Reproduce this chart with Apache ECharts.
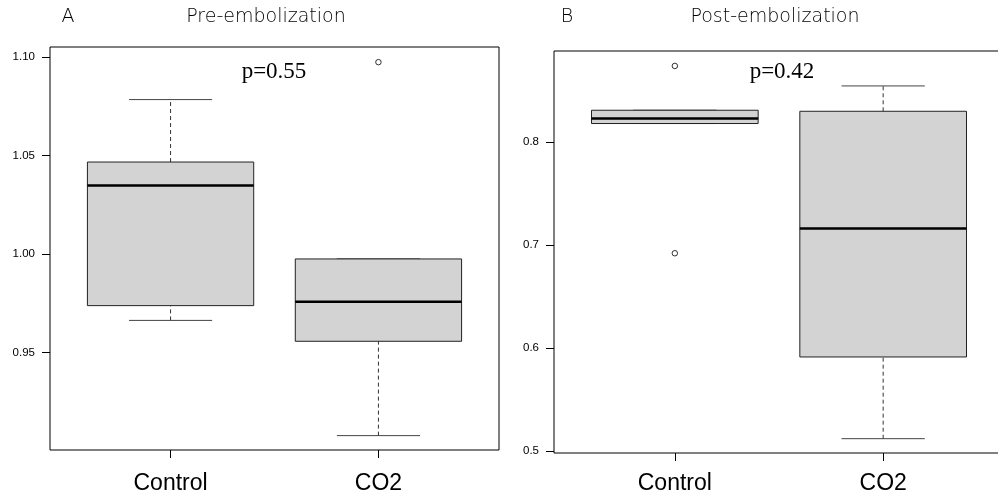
<!DOCTYPE html>
<html>
<head>
<meta charset="utf-8">
<script src="https://cdn.jsdelivr.net/npm/echarts@6/dist/echarts.min.js"></script>
<style>html,body{margin:0;padding:0;background:#fff}#c{width:998px;height:501px}</style>
</head>
<body>
<div id="c"></div>
<script>
const categories = ['Control', 'CO2'];
// [lowWhisker, Q1, median, Q3, highWhisker]
const preControl = [0.9664, 0.9739, 1.0349, 1.0468, 1.0785];
const preCO2 = [0.9079, 0.9558, 0.9759, 0.9976, 0.9976];
const preOutliers = [[2, 1.0975]];
const postControl = [0.8179, 0.8179, 0.8227, 0.8308, 0.8308];
const postCO2 = [0.512, 0.5913, 0.7159, 0.8298, 0.8544];
const postOutliers = [[1, 0.8738], [1, 0.692]];
const yTicksPre = [0.95, 1.00, 1.05, 1.10];
const yTicksPost = [0.5, 0.6, 0.7, 0.8];
const pPre = 'p=0.55';
const pPost = 'p=0.42';

const chart = echarts.init(document.getElementById('c'));

function renderBox(params, api) {
  const x = api.value(0);
  const lo = api.value(1), q1 = api.value(2), med = api.value(3), q3 = api.value(4), hi = api.value(5);
  const w = api.size([0.8, 0])[0];
  const cx = api.coord([x, med])[0];
  const yLo = api.coord([x, lo])[1];
  const yQ1 = api.coord([x, q1])[1];
  const yMed = api.coord([x, med])[1];
  const yQ3 = api.coord([x, q3])[1];
  const yHi = api.coord([x, hi])[1];
  const dash = { stroke: '#333', lineWidth: 1, lineDash: [4, 3] };
  const solid = { stroke: '#444', lineWidth: 1 };
  return {
    type: 'group',
    children: [
      { type: 'line', shape: { x1: cx, y1: yLo, x2: cx, y2: yQ1 }, style: dash },
      { type: 'line', shape: { x1: cx, y1: yQ3, x2: cx, y2: yHi }, style: dash },
      { type: 'line', shape: { x1: cx - w / 4, y1: yLo, x2: cx + w / 4, y2: yLo }, style: solid },
      { type: 'line', shape: { x1: cx - w / 4, y1: yHi, x2: cx + w / 4, y2: yHi }, style: solid },
      { type: 'rect', shape: { x: cx - w / 2, y: yQ3, width: w, height: yQ1 - yQ3 },
        style: { fill: '#d3d3d3', stroke: '#222', lineWidth: 1 } },
      { type: 'line', shape: { x1: cx - w / 2, y1: yMed, x2: cx + w / 2, y2: yMed },
        style: { stroke: '#000', lineWidth: 2.5 } }
    ]
  };
}

function xAxisCfg(gi, margin) {
  return {
    gridIndex: gi, type: 'value', min: 0.42, max: 2.58,
    axisLine: { show: false },
    splitLine: { show: false },
    axisTick: { show: true, customValues: [1, 2], length: 8, lineStyle: { color: '#000' } },
    axisLabel: { customValues: [1, 2], formatter: v => categories[Math.round(v) - 1] || '',
      fontSize: 23, color: '#000', margin: margin, fontFamily: 'Liberation Sans' }
  };
}
function yAxisCfg(gi, min, max, ticks, dec) {
  return {
    gridIndex: gi, type: 'value', min: min, max: max,
    axisLine: { show: false },
    splitLine: { show: false },
    axisTick: { show: true, customValues: ticks, length: 8, lineStyle: { color: '#000' } },
    axisLabel: { customValues: ticks, formatter: v => v.toFixed(dec),
      fontSize: 11.5, color: '#000', margin: 15, fontFamily: 'Liberation Sans' }
  };
}

const titleFont = { fontFamily: 'DejaVu Sans', fontWeight: 200, fontSize: 19, fill: '#000' };

chart.setOption({
  animation: false,
  grid: [
    { left: 50, top: 47, width: 449, height: 403, outerBoundsMode: 'none', show: true, borderColor: '#000', borderWidth: 1, backgroundColor: 'transparent' },
    { left: 554, top: 51, width: 450, height: 402, outerBoundsMode: 'none', show: true, borderColor: '#000', borderWidth: 1, backgroundColor: 'transparent' }
  ],
  xAxis: [xAxisCfg(0, 22), xAxisCfg(1, 19)],
  yAxis: [
    yAxisCfg(0, 0.9006, 1.1052, yTicksPre, 2),
    yAxisCfg(1, 0.4981, 0.8883, yTicksPost, 1)
  ],
  series: [
    { type: 'custom', xAxisIndex: 0, yAxisIndex: 0, renderItem: renderBox,
      encode: { x: 0, y: [1, 2, 3, 4, 5] },
      data: [[1, ...preControl], [2, ...preCO2]] },
    { type: 'scatter', xAxisIndex: 0, yAxisIndex: 0, data: preOutliers, symbol: 'circle', symbolSize: 5.5,
      itemStyle: { color: '#fff', borderColor: '#000', borderWidth: 1 } },
    { type: 'custom', xAxisIndex: 1, yAxisIndex: 1, renderItem: renderBox,
      encode: { x: 0, y: [1, 2, 3, 4, 5] },
      data: [[1, ...postControl], [2, ...postCO2]] },
    { type: 'scatter', xAxisIndex: 1, yAxisIndex: 1, data: postOutliers, symbol: 'circle', symbolSize: 5.5,
      itemStyle: { color: '#fff', borderColor: '#000', borderWidth: 1 } }
  ],
  graphic: [
    { type: 'text', x: 68, y: 17, style: Object.assign({ text: 'A', textAlign: 'center', textVerticalAlign: 'middle' }, titleFont) },
    { type: 'text', x: 266, y: 17, style: Object.assign({ text: 'Pre-embolization', textAlign: 'center', textVerticalAlign: 'middle' }, titleFont) },
    { type: 'text', x: 567, y: 17, style: Object.assign({ text: 'B', textAlign: 'center', textVerticalAlign: 'middle' }, titleFont) },
    { type: 'text', x: 775, y: 17, style: Object.assign({ text: 'Post-embolization', textAlign: 'center', textVerticalAlign: 'middle' }, titleFont) },
    { type: 'text', x: 274, y: 72, style: { text: pPre, textAlign: 'center', textVerticalAlign: 'middle', fontFamily: 'Liberation Serif', fontSize: 23, fill: '#000' } },
    { type: 'text', x: 782, y: 72, style: { text: pPost, textAlign: 'center', textVerticalAlign: 'middle', fontFamily: 'Liberation Serif', fontSize: 23, fill: '#000' } }
  ]
});
</script>
</body>
</html>
